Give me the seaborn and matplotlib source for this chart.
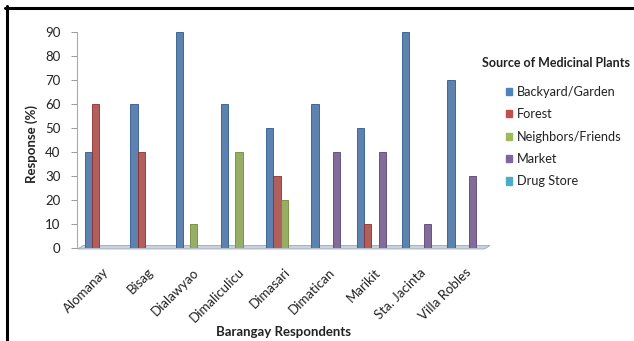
import numpy as np
import pandas as pd
import matplotlib
matplotlib.use("Agg")
import matplotlib.pyplot as plt
import matplotlib.transforms as mtransforms
from matplotlib.patches import Polygon, Patch
from matplotlib.lines import Line2D
import seaborn as sns

barangays = ["Alomanay", "Bisag", "Dialawyao", "Dimaliculicu", "Dimasari",
             "Dimatican", "Marikit", "Sta. Jacinta", "Villa Robles"]
sources = ["Backyard/Garden", "Forest", "Neighbors/Friends", "Market", "Drug Store"]

backyard = [40, 60, 90, 60, 50, 60, 50, 90, 70]
forest = [60, 40, 0, 0, 30, 0, 10, 0, 0]
neighbors = [0, 0, 10, 40, 20, 0, 0, 0, 0]
market = [0, 0, 0, 0, 0, 40, 40, 10, 30]
drug_store = [0, 0, 0, 0, 0, 0, 0, 0, 0]

colors = ["#4F81BD", "#C0504D", "#9BBB59", "#8064A2", "#4BACC6"]
edges = ["#2E5A8E", "#8E2F2C", "#6E8A38", "#5A4478", "#2F7F96"]

series = [backyard, forest, neighbors, market, drug_store]
df = pd.DataFrame({
    "Barangay": np.tile(barangays, len(sources)),
    "Source": np.repeat(sources, len(barangays)),
    "Response": np.concatenate(series),
})

sns.set_theme(style="white")
plt.rcParams["font.family"] = ["Lato", "DejaVu Sans"]

W, H = 634, 341
fig = plt.figure(figsize=(W / 100, H / 100), dpi=100)
ax_l, ax_r, ax_t, ax_b = 77, 490, 32, 248
ax = fig.add_axes([ax_l / W, 1 - ax_b / H, (ax_r - ax_l) / W, (ax_b - ax_t) / H])

sns.barplot(data=df, x="Barangay", y="Response", hue="Source",
            hue_order=sources, order=barangays, palette=colors,
            width=0.8, dodge=True, errorbar=None, legend=False, ax=ax,
            linewidth=0.6)

# darker outline per series for a slight 3D look
for container, ec in zip(ax.containers, edges):
    for bar in container:
        bar.set_edgecolor(ec)

ax.set_ylim(0, 90)
ax.set_xlim(-0.576, 8.54)

# thin floor slab under the bars
floor = Polygon([[-0.56, -0.4], [8.42, -0.4], [8.54, 1.0], [-0.44, 1.0]],
                closed=True, facecolor="#C9D3DE", edgecolor="#9AA8B8",
                linewidth=0.6, zorder=0.5, clip_on=False)
ax.add_patch(floor)

ax.set_yticks(range(0, 91, 10))
ax.tick_params(axis="y", labelsize=9.5, length=4, width=0.7, color="#999999",
               left=True, pad=8, labelcolor="#222222")
ax.tick_params(axis="x", labelsize=9.5, length=0, pad=16, labelcolor="#222222")
shift = mtransforms.ScaledTranslation(0.035, 0, fig.dpi_scale_trans)
for lab in ax.get_xticklabels():
    lab.set_rotation(45)
    lab.set_ha("right")
    lab.set_va("center")
    lab.set_rotation_mode("anchor")
    lab.set_transform(lab.get_transform() + shift)

for side in ["top", "right", "bottom"]:
    ax.spines[side].set_visible(False)
ax.spines["left"].set_color("#AAAAAA")
ax.spines["left"].set_linewidth(0.8)

ax.set_ylabel("Response (%)", fontsize=9.5, fontweight="bold", color="#222222")
ax.yaxis.set_label_coords(-0.095, 0.48)
ax.set_xlabel("Barangay Respondents", fontsize=9.5, fontweight="bold",
              color="#222222")
ax.xaxis.set_label_coords(0.499, -0.36)

# legend: bold heading with indented entries
fig.text(482 / W, 1 - 63 / H, "Source of Medicinal Plants", fontsize=9,
         fontweight="bold", color="#222222", ha="left", va="center")
handles = [Patch(facecolor=c, edgecolor=c) for c in colors]
leg = fig.legend(handles, sources, loc="upper left",
                 bbox_to_anchor=(506 / W, 1 - 86 / H), frameon=False,
                 fontsize=9.2, handlelength=0.5, handleheight=0.5,
                 handletextpad=0.36, labelspacing=0.81,
                 borderaxespad=0, borderpad=0)
for t in leg.get_texts():
    t.set_color("#222222")

# outer frame on the left and top
fig.add_artist(Line2D([6.5 / W, 6.5 / W], [0, 1 - 6 / H],
                      transform=fig.transFigure, color="black", linewidth=2.2))
fig.add_artist(Line2D([5 / W, 1.0], [1 - 7.5 / H, 1 - 7.5 / H],
                      transform=fig.transFigure, color="black", linewidth=2.2))

fig.savefig("out.png", dpi=100)
